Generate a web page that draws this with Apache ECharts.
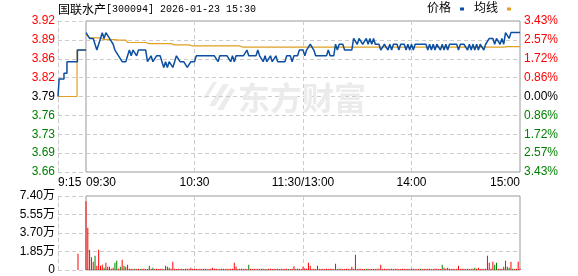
<!DOCTYPE html>
<html><head><meta charset="utf-8">
<script src="https://cdn.jsdelivr.net/npm/echarts@6/dist/echarts.min.js"></script>
<style>html,body{margin:0;padding:0;background:#fff}#c{width:578px;height:276px}</style>
</head><body><div id="c"></div>
<script>
// ---------- data ----------
const titleName = '国联水产';
const titleRest = '[300094] 2026-01-23 15:30';
const prevClose = 3.79;
const priceMax = 3.92;
const priceTicks = ['3.66','3.69','3.73','3.76','3.79','3.82','3.86','3.89','3.92']; // bottom -> top
const pctTicks = ['3.43%','2.57%','1.72%','0.86%','0.00%','0.86%','1.72%','2.57%','3.43%'];
const timeLabels = ['09:30','10:30','11:30/13:00','14:00','15:00'];
const preLabel = '9:15';
const volTicks = ['0','1.85万','3.70万','5.55万','7.40万'];
const volMax = 74000;

// pre-market auction (minutes after 9:15)
const preTimes = [0, 0.6, 3.2, 4.8, 10.4, 15];
const prePrice = [3.79, 3.82, 3.83, 3.85, 3.87, 3.87];
const preAvgTimes = [0, 10.2, 15];
const preAvg = [3.79, 3.87, 3.87];
const preVolTimes = [10.7];
const preVol = [16300];

// one value per minute, 09:30 .. 11:30, 13:01 .. 15:00
const price = [
3.90,3.90,3.89,3.89,3.89,3.88,3.87,3.88,3.89,3.90,
3.89,3.90,3.90,3.89,3.89,3.88,3.87,3.87,3.86,3.86,
3.85,3.85,3.85,3.86,3.87,3.86,3.87,3.87,3.86,3.87,
3.87,3.87,3.87,3.87,3.85,3.85,3.86,3.85,3.85,3.86,
3.86,3.86,3.85,3.84,3.85,3.84,3.85,3.85,3.84,3.85,
3.86,3.86,3.85,3.85,3.85,3.85,3.84,3.84,3.85,3.85,
3.85,3.86,3.86,3.86,3.86,3.86,3.86,3.86,3.86,3.86,
3.86,3.86,3.86,3.85,3.86,3.86,3.86,3.86,3.86,3.86,
3.85,3.86,3.85,3.86,3.86,3.86,3.86,3.86,3.86,3.87,
3.86,3.86,3.86,3.86,3.86,3.87,3.86,3.86,3.85,3.86,
3.85,3.85,3.86,3.85,3.85,3.86,3.85,3.85,3.85,3.85,
3.85,3.86,3.86,3.86,3.85,3.86,3.86,3.86,3.87,3.87,
3.87,3.86,3.87,3.87,3.88,3.88,3.87,3.86,3.86,3.86,
3.86,3.86,3.86,3.86,3.87,3.86,3.86,3.86,3.88,3.87,
3.88,3.88,3.88,3.87,3.87,3.87,3.87,3.87,3.89,3.89,
3.88,3.89,3.89,3.88,3.88,3.89,3.88,3.89,3.88,3.89,
3.88,3.88,3.88,3.87,3.87,3.88,3.88,3.87,3.88,3.87,
3.88,3.88,3.88,3.87,3.88,3.88,3.88,3.87,3.88,3.87,
3.88,3.87,3.88,3.88,3.88,3.88,3.88,3.88,3.88,3.87,
3.88,3.87,3.88,3.87,3.88,3.88,3.87,3.88,3.87,3.88,
3.87,3.88,3.88,3.88,3.88,3.88,3.87,3.88,3.88,3.88,
3.88,3.87,3.88,3.87,3.88,3.87,3.88,3.87,3.88,3.88,
3.87,3.88,3.88,3.89,3.89,3.89,3.88,3.89,3.89,3.88,
3.89,3.88,3.90,3.90,3.89,3.90,3.90,3.90,3.90,3.90,
3.90
];
const avg = [
3.897,3.894,3.891,3.891,3.891,3.891,3.891,3.891,3.891,3.888,
3.888,3.888,3.888,3.888,3.888,3.888,3.888,3.888,3.887,3.887,
3.887,3.887,3.887,3.883,3.883,3.883,3.883,3.883,3.883,3.883,
3.883,3.883,3.883,3.883,3.883,3.881,3.881,3.881,3.881,3.881,
3.881,3.881,3.881,3.881,3.881,3.881,3.881,3.881,3.881,3.879,
3.879,3.879,3.879,3.879,3.879,3.879,3.879,3.879,3.879,3.877,
3.877,3.877,3.877,3.877,3.877,3.877,3.877,3.877,3.877,3.877,
3.877,3.877,3.877,3.877,3.877,3.877,3.877,3.877,3.877,3.877,
3.877,3.877,3.877,3.877,3.877,3.877,3.877,3.875,3.875,3.875,
3.875,3.875,3.875,3.875,3.875,3.875,3.875,3.875,3.875,3.875,
3.875,3.875,3.875,3.875,3.875,3.875,3.875,3.875,3.875,3.875,
3.875,3.875,3.875,3.875,3.875,3.875,3.875,3.875,3.875,3.875,
3.875,3.875,3.875,3.875,3.875,3.875,3.875,3.875,3.875,3.875,
3.875,3.875,3.875,3.875,3.875,3.875,3.875,3.875,3.875,3.875,
3.875,3.875,3.875,3.875,3.875,3.875,3.875,3.875,3.875,3.875,
3.875,3.875,3.875,3.875,3.875,3.875,3.875,3.875,3.875,3.875,
3.875,3.875,3.875,3.875,3.875,3.875,3.875,3.875,3.875,3.875,
3.875,3.875,3.875,3.875,3.875,3.875,3.875,3.875,3.875,3.875,
3.875,3.875,3.875,3.875,3.875,3.875,3.875,3.875,3.875,3.875,
3.875,3.875,3.875,3.875,3.875,3.875,3.875,3.875,3.875,3.875,
3.875,3.875,3.875,3.875,3.875,3.875,3.875,3.875,3.875,3.875,
3.875,3.875,3.875,3.875,3.875,3.875,3.875,3.875,3.875,3.875,
3.875,3.875,3.875,3.875,3.875,3.875,3.875,3.875,3.875,3.875,
3.875,3.875,3.875,3.876,3.876,3.876,3.876,3.876,3.876,3.876,
3.876
];
const volume = [
68700,42300,20300,12700,8300,14300,4300,20300,4300,5300,
2300,7300,3300,3300,1300,2300,7300,9300,1300,3300,
10300,4300,3300,5300,1300,1200,1000,1300,1100,1200,
1000,1300,1200,1000,1100,4300,1300,2300,1100,1200,
1000,1300,1200,1100,4300,3300,2300,1300,8300,1200,
1100,1300,1000,1200,1100,1200,1300,1000,2300,1200,
1000,1300,1100,1200,1000,1300,1200,1100,1000,1200,
2300,1200,1300,1100,1000,1200,1300,1100,1200,1000,
1300,1200,7300,3300,1100,1200,1300,1000,1200,1100,
5300,1200,1000,1300,1100,1200,1000,1300,1200,1100,
1000,1200,1300,1100,1200,1000,1300,1100,1200,1000,
1200,1300,1100,1000,1200,3700,1100,1200,1300,1000,
3300,1800,1300,7300,4300,1100,1200,1000,4300,1200,
1100,1300,1000,1200,1100,1300,1200,1000,6300,1100,
1200,1300,1000,1100,1200,1300,1000,3300,1200,15300,
1100,1300,1200,1000,1100,1200,1300,1000,1200,1100,
1000,1200,1300,5300,1100,1200,1000,1300,1100,1200,
1000,1300,1200,1100,1000,1200,1300,1100,1200,1000,
1300,1200,1100,1000,1200,1300,1100,1200,1000,1300,
1200,1100,1000,1200,1300,1100,1000,5300,2300,1300,
2300,1200,1100,1300,1000,1200,4300,1100,1200,1300,
1000,1200,1100,1300,1200,2300,1300,2300,1100,1200,
1000,1300,14300,7300,1300,8300,5300,7300,1300,1300,
1300,3300,9300,3300,2300,8300,1300,1000,1200,8300,
1300
];
const greenIdx = [2,5,10,13,16,17,19,21,27,30,35,37,45,46,53,66,75,90,100,112,128,140,155,170,185,197,210,215,226,227,231,234,236];

// ---------- chart ----------
const FONT = '"Liberation Sans", "Noto Sans CJK SC", sans-serif';
const step = (priceMax - prevClose) / 4;
const toY = p => (p - prevClose) / step;
const BLUE = '#0d4fa2', ORANGE = '#e0a020', RED = '#ff0000', GREEN = '#008000';
const dash = {color: '#cccccc', type: [4, 3], width: 1};
const greenSet = new Set(greenIdx);
const lblColor = v => { const k = Math.round(Number(v)); return k > 0 ? RED : (k < 0 ? GREEN : '#000000'); };

const chart = echarts.init(document.getElementById('c'), null, {renderer: 'canvas'});
chart.setOption({
  animation: false,
  backgroundColor: '#ffffff',
  textStyle: {fontFamily: FONT},
  title: {text: '{c|' + titleName + '}{m|' + titleRest + '}', left: 58, top: 3, padding: 0,
    textStyle: {fontSize: 12, fontWeight: 'normal', color: '#000',
      rich: {
        c: {fontSize: 12, fontFamily: '"Noto Sans CJK SC", sans-serif', color: '#000'},
        m: {fontSize: 10, fontFamily: '"Liberation Mono", "DejaVu Sans Mono", monospace', color: '#000'}
      }}},
  legend: {data: ['价格', '均线'], right: 67, top: 3, padding: 0, icon: 'rect', itemWidth: 4, itemHeight: 3,
    align: 'right', itemGap: 10, selectedMode: false,
    textStyle: {fontSize: 12, color: '#000', fontFamily: FONT, padding: [0, 4, 0, 0]}},
  graphic: [
    {type: 'text', left: 238, top: 82, z: 1, silent: true,
      style: {text: '东方财富', fontSize: 32, fontWeight: 'bold', fill: '#ebebeb', fontFamily: '"Noto Sans CJK SC", sans-serif'}},
    {type: 'group', left: 203, top: 82, z: 1, silent: true, children: [
      {type: 'polygon', shape: {points: [[6,26],[20,4],[26,4],[12,26]]}, style: {fill: '#ececec'}},
      {type: 'polygon', shape: {points: [[14,30],[28,8],[32,10],[20,30]]}, style: {fill: '#ececec'}},
      {type: 'polygon', shape: {points: [[0,18],[10,2],[14,2],[4,18]]}, style: {fill: '#ececec'}}
    ]}
  ],
  grid: [
    {left: 58, top: 21, width: 28, height: 151, show: false},
    {left: 86, top: 21, width: 434, height: 151, show: true, borderColor: '#999999', borderWidth: 1, backgroundColor: 'transparent'},
    {left: 58, top: 196, width: 28, height: 74, show: false},
    {left: 86, top: 196, width: 434, height: 74, show: true, borderColor: '#999999', borderWidth: 1, backgroundColor: 'transparent'}
  ],
  xAxis: [
    {gridIndex: 0, type: 'value', min: 0, max: 15, interval: 15,
      axisLine: {show: false}, axisTick: {show: false}, splitLine: {show: false},
      axisLabel: {show: true, margin: 5, fontSize: 12, color: '#000', fontFamily: FONT, alignMinLabel: 'left',
        formatter: v => (v === 0 ? preLabel : '')}},
    {gridIndex: 1, type: 'value', min: 0, max: 240, interval: 60,
      axisLine: {show: false}, axisTick: {show: false},
      splitLine: {show: true, lineStyle: dash, showMinLine: false, showMaxLine: false},
      axisLabel: {show: true, margin: 5, fontSize: 12, color: '#000', fontFamily: FONT,
        alignMinLabel: 'left', alignMaxLabel: 'right', formatter: v => timeLabels[Math.round(v / 60)]}},
    {gridIndex: 2, type: 'value', min: 0, max: 15, interval: 15, show: true,
      axisLine: {show: false}, axisTick: {show: false}, splitLine: {show: false}, axisLabel: {show: false}},
    {gridIndex: 3, type: 'value', min: 0, max: 240, interval: 60,
      axisLine: {show: false}, axisTick: {show: false}, axisLabel: {show: false},
      splitLine: {show: true, lineStyle: dash, showMinLine: false, showMaxLine: false}}
  ],
  yAxis: [
    {gridIndex: 0, type: 'value', position: 'left', min: -4, max: 4, interval: 1,
      axisLine: {show: true, onZero: false, lineStyle: dash}, axisTick: {show: false},
      splitLine: {show: true, lineStyle: dash},
      axisLabel: {margin: 3, fontSize: 12, fontFamily: FONT, color: lblColor,
        formatter: v => priceTicks[Math.round(v) + 4]}},
    {gridIndex: 1, type: 'value', position: 'right', min: -4, max: 4, interval: 1,
      axisLine: {show: false}, axisTick: {show: false},
      splitLine: {show: true, lineStyle: dash, showMinLine: false, showMaxLine: false},
      axisLabel: {margin: 4, fontSize: 12, fontFamily: FONT, color: lblColor,
        formatter: v => pctTicks[Math.round(v) + 4]}},
    {gridIndex: 2, type: 'value', position: 'left', min: 0, max: volMax, interval: volMax / 4,
      axisLine: {show: true, onZero: false, lineStyle: dash}, axisTick: {show: false},
      splitLine: {show: true, lineStyle: dash},
      axisLabel: {margin: 3, fontSize: 12, fontFamily: FONT, color: '#000',
        formatter: v => volTicks[Math.round(v / (volMax / 4))]}},
    {gridIndex: 3, type: 'value', position: 'right', min: 0, max: volMax, interval: volMax / 4,
      axisLine: {show: false}, axisTick: {show: false}, axisLabel: {show: false},
      splitLine: {show: true, lineStyle: dash, showMinLine: false, showMaxLine: false}}
  ],
  series: [
    {name: '均线', type: 'line', xAxisIndex: 0, yAxisIndex: 0, step: 'end', symbol: 'none', z: 3,
      lineStyle: {color: ORANGE, width: 1.2}, itemStyle: {color: ORANGE},
      data: preAvgTimes.map((t, k) => [t, toY(preAvg[k])])},
    {name: '价格', type: 'line', xAxisIndex: 0, yAxisIndex: 0, step: 'end', symbol: 'none', z: 4,
      lineStyle: {color: BLUE, width: 1.5}, itemStyle: {color: BLUE},
      data: preTimes.map((t, k) => [t, toY(prePrice[k])])},
    {name: '均线', type: 'line', xAxisIndex: 1, yAxisIndex: 1, symbol: 'none', z: 3,
      lineStyle: {color: ORANGE, width: 1.2}, itemStyle: {color: ORANGE},
      data: avg.map((p, i) => [i, toY(p)])},
    {name: '价格', type: 'line', xAxisIndex: 1, yAxisIndex: 1, symbol: 'none', z: 4,
      lineStyle: {color: BLUE, width: 1.5}, itemStyle: {color: BLUE},
      data: price.map((p, i) => [i, toY(p)])},
    {name: 'preVol', type: 'bar', xAxisIndex: 2, yAxisIndex: 2, barWidth: 1,
      itemStyle: {color: RED}, data: preVolTimes.map((t, k) => [t, preVol[k]])},
    {name: 'vol', type: 'bar', xAxisIndex: 3, yAxisIndex: 3, barWidth: 1,
      itemStyle: {color: p => (greenSet.has(p.dataIndex) ? GREEN : RED)},
      data: volume.map((v, i) => [i, v])}
  ]
});
</script></body></html>
